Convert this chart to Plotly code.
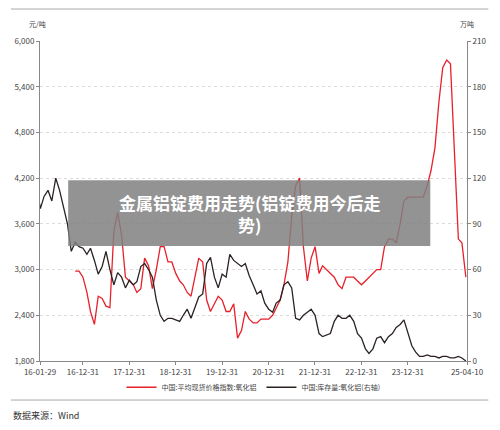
import pandas as pd
import plotly.graph_objects as go

# 中国:平均现货价格指数:氧化铝 (元/吨), monthly from 2016-11
price_start = "2016-11-01"
price = [2980, 2980, 2900, 2700, 2450, 2280, 2650, 2620, 2520, 2500, 3500, 3750,
         3450, 2900, 2850, 2800, 2700, 2750, 3150, 3050, 2750, 3000, 3300, 3300,
         3100, 3100, 2950, 2850, 2800, 2700, 2650, 2900, 3150, 3100, 2600, 2450,
         2550, 2650, 2600, 2450, 2450, 2550, 2100, 2200, 2450, 2350, 2300, 2300,
         2350, 2350, 2350, 2400, 2500, 2600, 2800, 3100, 3700, 4100, 4200, 3300,
         2850, 3150, 3300, 2950, 3050, 3000, 2950, 2900, 2800, 2750, 2900, 2900,
         2900, 2850, 2800, 2850, 2900, 2950, 3000, 3000, 3300, 3400, 3400, 3350,
         3600, 3900, 3950, 3950, 3950, 3950, 3950, 4100, 4300, 4600, 5200, 5650,
         5750, 5700, 4500, 3400, 3350, 2900]

# 中国:库存量:氧化铝 (万吨), monthly from 2016-01
stock_start = "2016-01-01"
stock = [115, 100, 108, 112, 105, 120, 112, 100, 90, 72, 78, 75,
         74, 70, 74, 66, 57, 62, 72, 60, 50, 58, 55, 48,
         53, 50, 52, 62, 64, 60, 55, 40, 30, 26, 28, 28,
         27, 26, 30, 34, 28, 35, 42, 44, 64, 68, 55, 48,
         57, 55, 70, 66, 64, 62, 64, 56, 50, 44, 46, 38,
         34, 32, 38, 40, 50, 52, 48, 28, 27, 30, 32, 34,
         30, 18, 16, 17, 18, 26, 30, 28, 28, 30, 26, 18,
         15, 8, 5, 8, 15, 16, 12, 16, 18, 22, 24, 27,
         18, 10, 6, 3, 3, 4, 3, 3, 2, 3, 3, 2,
         2, 3, 2, 0]

tick_dates = ["2016-01-29", "2016-12-31", "2017-12-31", "2018-12-31", "2019-12-31",
              "2020-12-31", "2021-12-31", "2022-12-31", "2023-12-31", "2025-04-10"]
tick_text = ["16-01-29", "16-12-31", "17-12-31", "18-12-31", "19-12-31",
             "20-12-31", "21-12-31", "22-12-31", "23-12-31", "25-04-10"]

price_x = pd.date_range(price_start, periods=len(price), freq="MS")
stock_x = pd.date_range(stock_start, periods=len(stock), freq="MS")

fig = go.Figure()
fig.add_trace(go.Scatter(x=price_x, y=price, mode="lines", name="中国:平均现货价格指数:氧化铝",
                         line=dict(color="#e8202a", width=1.3)))
fig.add_trace(go.Scatter(x=stock_x, y=stock, mode="lines", name="中国:库存量:氧化铝(右轴)",
                         yaxis="y2", line=dict(color="#2b2222", width=1.3)))

font = "Noto Sans CJK SC"
fig.update_layout(
    width=492, height=422, paper_bgcolor="white", plot_bgcolor="white",
    margin=dict(l=32, r=33, t=33, b=69, autoexpand=False),
    font=dict(family=font, size=8, color="#444"),
    showlegend=True,
    legend=dict(orientation="h", x=0.5, xanchor="center", y=-0.082, yanchor="middle",
                bgcolor="rgba(0,0,0,0)", font=dict(size=7)),
    xaxis=dict(range=["2016-01-29", "2025-04-10"], tickvals=tick_dates, ticktext=tick_text,
               showgrid=False, showline=True, linecolor="#888", ticks="outside",
               ticklen=3, tickcolor="#888"),
    yaxis=dict(range=[1800, 6000], dtick=600, tickformat=",", showgrid=True,
               gridcolor="#ddd", griddash="dot", showline=True, linecolor="#888",
               ticks="outside", ticklen=3, tickcolor="#888", zeroline=False),
    yaxis2=dict(range=[0, 210], dtick=30, overlaying="y", side="right", showgrid=False,
                showline=True, linecolor="#888", ticks="outside", ticklen=3,
                tickcolor="#888", zeroline=False),
    shapes=[
        dict(type="line", xref="paper", yref="paper", x0=-0.068, x1=1.05, y0=1.1, y1=1.1,
             line=dict(color="#aaa", width=1)),
        dict(type="line", xref="paper", yref="paper", x0=-0.068, x1=1.05, y0=-0.122, y1=-0.122,
             line=dict(color="#aaa", width=1)),
        dict(type="rect", xref="paper", yref="paper", x0=0.066, x1=0.914, y0=0.359, y1=0.565,
             fillcolor="rgba(128,128,128,0.85)", line=dict(width=0)),
    ],
    annotations=[
        dict(text="元/吨", xref="paper", yref="paper", x=-0.005, y=1.03, xanchor="center",
             yanchor="bottom", showarrow=False, font=dict(size=7)),
        dict(text="万吨", xref="paper", yref="paper", x=1.0, y=1.03, xanchor="center",
             yanchor="bottom", showarrow=False, font=dict(size=7)),
        dict(text="<b>金属铝锭费用走势(铝锭费用今后走<br>势)</b>", xref="paper", yref="paper",
             x=0.49, y=0.462, showarrow=False, font=dict(size=17, color="white", family=font)),
        dict(text="数据来源：Wind", xref="paper", yref="paper", x=-0.068, y=-0.17,
             xanchor="left", yanchor="middle", showarrow=False, font=dict(size=9, color="#333")),
    ],
)

fig.write_html("out.html")
